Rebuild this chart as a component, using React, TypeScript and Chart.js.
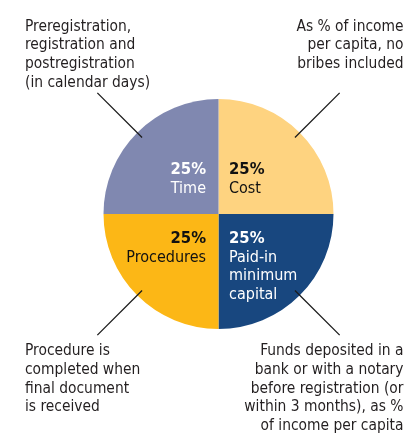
import React, { useEffect, useRef } from "react";
import { Chart, registerables } from "chart.js";

Chart.register(...registerables);

// Slices, clockwise from 12 o'clock
const categories = ["Cost", "Paid-in minimum capital", "Procedures", "Time"];
const shares = [25, 25, 25, 25];
const sliceLabels = [["Cost"], ["Paid-in", "minimum", "capital"], ["Procedures"], ["Time"]];
const sliceColors = ["#FED380", "#18477F", "#FCB716", "#8088B0"];
const sliceTextColors = ["#111111", "#FFFFFF", "#111111", "#FFFFFF"];
const notes = [
  ["As % of income", "per capita, no", "bribes included"],
  ["Funds deposited in a", "bank or with a notary", "before registration (or", "within 3 months), as %", "of income per capita"],
  ["Procedure is", "completed when", "final document", "is received"],
  ["Preregistration,", "registration and", "postregistration", "(in calendar days)"],
];

const FONT = '"DejaVu Sans Condensed", "Liberation Sans Narrow", sans-serif';
const LH = 18.7;

const labelPlugin = {
  id: "labels",
  afterDatasetsDraw(chart: any) {
    const ctx = chart.ctx;
    const meta = chart.getDatasetMeta(0);
    const W = chart.width;
    ctx.save();
    meta.data.forEach((arc: any, i: number) => {
      const { x: cx, y: cy, outerRadius: r, startAngle, endAngle } = arc.getProps(
        ["x", "y", "outerRadius", "startAngle", "endAngle"],
        true
      );
      const mid = (startAngle + endAngle) / 2;
      const ux = Math.cos(mid);
      const uy = Math.sin(mid);
      const right = ux > 0;
      const bottom = uy > 0;
      // inside labels
      const lines = [`${shares[i]}%`, ...sliceLabels[i]];
      ctx.fillStyle = sliceTextColors[i];
      ctx.textAlign = right ? "left" : "right";
      ctx.textBaseline = "alphabetic";
      const tx = right ? cx + 10.5 : cx - 12.5;
      lines.forEach((t, k) => {
        ctx.font = (k === 0 ? "bold 16.5px " : "16px ") + FONT;
        let y;
        if (bottom) y = cy + 29 + k * LH;
        else y = cy - 21 - (lines.length - 1 - k) * LH;
        ctx.fillText(t, tx, y);
      });
      // leader line
      const x1 = cx + ux * r * 0.94;
      const y1 = cy + uy * r * 0.94;
      const x2 = cx + ux * r * 1.49;
      const y2 = cy + uy * r * 1.49;
      ctx.strokeStyle = "#1a1a1a";
      ctx.lineWidth = 1.3;
      ctx.beginPath();
      ctx.moveTo(x1, y1);
      ctx.lineTo(x2, y2);
      ctx.stroke();
      // note text
      const nl = notes[i];
      ctx.fillStyle = "#231F20";
      ctx.font = "15.4px " + FONT;
      ctx.textAlign = right ? "right" : "left";
      const nx = right ? W - 4.5 : 25;
      nl.forEach((t, k) => {
        let y;
        if (bottom) y = y2 + 20 + k * LH;
        else y = y2 - 6 - 3 * LH + k * LH;
        ctx.fillText(t, nx, y);
      });
    });
    ctx.restore();
  },
};

export default function App() {
  const ref = useRef<HTMLCanvasElement>(null);
  useEffect(() => {
    if (!ref.current) return;
    const chart = new Chart(ref.current, {
      type: "pie",
      data: {
        labels: categories,
        datasets: [
          {
            data: shares,
            backgroundColor: sliceColors,
            borderWidth: 0,
            hoverOffset: 0,
          },
        ],
      },
      options: {
        animation: false,
        responsive: false,
        maintainAspectRatio: false,
        events: [],
        layout: { padding: { left: 103.5, right: 74.5, top: 99, bottom: 106 } },
        plugins: { legend: { display: false }, tooltip: { enabled: false } },
      },
      plugins: [labelPlugin],
    });
    return () => chart.destroy();
  }, []);
  return (
    <div style={{ position: "fixed", left: 0, top: 0, width: 408, height: 435, background: "#fff" }}>
      <canvas ref={ref} width={408} height={435} style={{ width: 408, height: 435 }} />
    </div>
  );
}
